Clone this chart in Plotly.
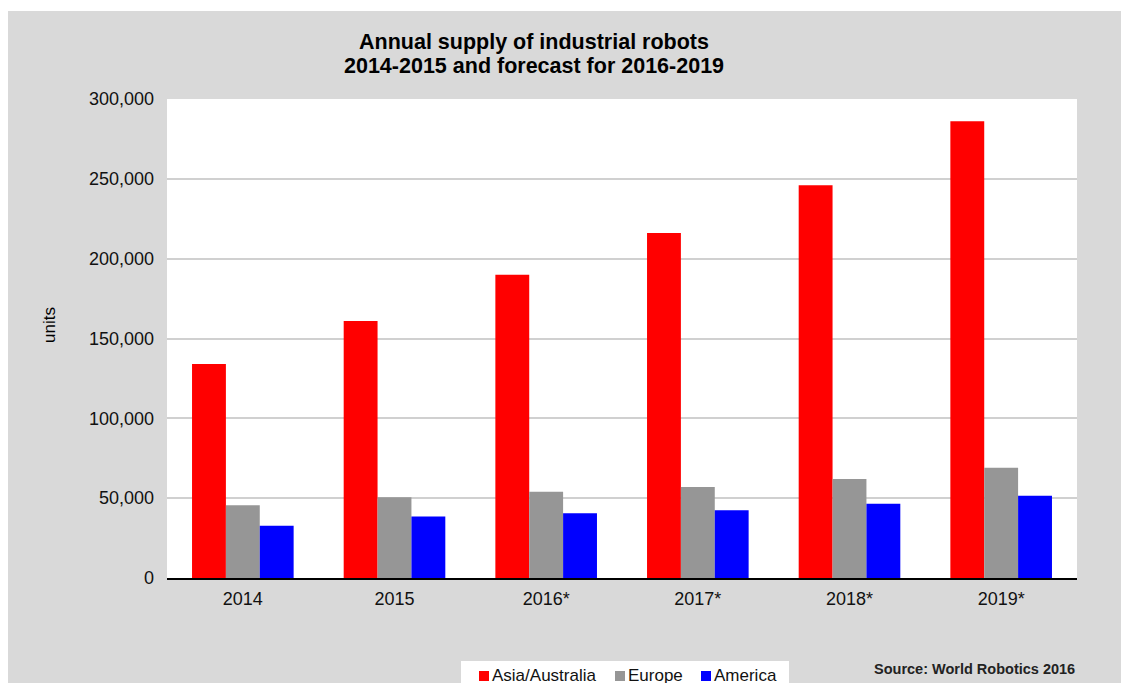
import plotly.graph_objects as go

years = ["2014", "2015", "2016*", "2017*", "2018*", "2019*"]
asia = [134000, 161000, 190000, 216000, 246000, 286000]
europe = [45500, 50500, 54000, 57000, 62000, 69000]
america = [32700, 38500, 40500, 42500, 46500, 51500]
series_names = ["Asia/Australia", "Europe", "America"]
series_colors = ["#ff0000", "#969696", "#0000ff"]
y_ticks = [0, 50000, 100000, 150000, 200000, 250000, 300000]

OFF = 8  # page body margin
W, H = 1129 - OFF, 683 - OFF
# plot area in reference (screen) pixels: x 167..1077, y 99..578
ml, mr = 167 - OFF, W - (1077 - OFF)
mt, mb = 99 - OFF, H - (578 - OFF)
pw, ph = W - ml - mr, H - mt - mb

def px_x(x):
    return (x - OFF - ml) / pw

def px_y(y):
    return (H - mb - (y - OFF)) / ph

FONT = "Liberation Sans, Arial, sans-serif"

fig = go.Figure()
for name, vals, col in zip(series_names, [asia, europe, america], series_colors):
    fig.add_trace(go.Bar(x=years, y=vals, name=name, showlegend=False,
                         marker=dict(color=col, line=dict(width=0))))

# hand-placed legend (matches the small squares of the original)
legend_box = (461, 789, 661)          # left, right, top (screen px)
legend_sym_x = [479, 615, 701]        # left edge of each colour square
legend_sym_top, legend_sym_size = 671, 10
legend_text_y = 675

shapes = [
    dict(type="rect", xref="paper", yref="paper",
         x0=px_x(0), x1=px_x(1200), y0=px_y(11), y1=px_y(0),
         fillcolor="#ffffff", line=dict(width=0), layer="above"),
    dict(type="rect", xref="paper", yref="paper",
         x0=px_x(legend_box[0]), x1=px_x(legend_box[1]),
         y0=px_y(720), y1=px_y(legend_box[2]),
         fillcolor="#ffffff", line=dict(width=0), layer="above"),
]
annotations = []
for name, col, sx in zip(series_names, series_colors, legend_sym_x):
    shapes.append(dict(type="rect", xref="paper", yref="paper",
                       x0=px_x(sx), x1=px_x(sx + legend_sym_size),
                       y0=px_y(legend_sym_top + legend_sym_size), y1=px_y(legend_sym_top),
                       fillcolor=col, line=dict(width=0), layer="above"))
    annotations.append(dict(text=name, xref="paper", yref="paper",
                            x=px_x(sx + legend_sym_size + 2), y=px_y(legend_text_y),
                            xanchor="left", yanchor="middle", showarrow=False,
                            borderpad=0, font=dict(size=17, family=FONT, color="#111111")))

annotations += [
    dict(text="<b>Annual supply of industrial robots</b>",
         xref="paper", yref="paper", x=px_x(534), y=px_y(42),
         xanchor="center", yanchor="middle", showarrow=False,
         font=dict(size=21.5, family=FONT, color="#000000")),
    dict(text="<b>2014-2015 and forecast for 2016-2019</b>",
         xref="paper", yref="paper", x=px_x(534), y=px_y(66),
         xanchor="center", yanchor="middle", showarrow=False,
         font=dict(size=21.5, family=FONT, color="#000000")),
    dict(text="units", xref="paper", yref="paper", x=px_x(49), y=px_y(325),
         xanchor="center", yanchor="middle", showarrow=False, textangle=-90,
         font=dict(size=17, family=FONT, color="#000000")),
    dict(text="<b>Source: World Robotics 2016</b>", xref="paper", yref="paper",
         x=px_x(1077), y=px_y(669), xanchor="right", yanchor="middle",
         showarrow=False, font=dict(size=14.5, family=FONT, color="#222222")),
]

fig.update_layout(
    width=W, height=H,
    margin=dict(l=ml, r=mr, t=mt, b=mb, autoexpand=False),
    paper_bgcolor="#d9d9d9",
    plot_bgcolor="#ffffff",
    barmode="group",
    bargap=0.33,
    bargroupgap=0,
    font=dict(family=FONT, size=18, color="#111111"),
    showlegend=False,
    xaxis=dict(
        showline=True, linecolor="#000000", linewidth=2,
        ticks="", showgrid=False,
        tickfont=dict(size=18),
        ticklabelstandoff=3,
        fixedrange=True,
    ),
    yaxis=dict(
        range=[0, 300000],
        tickvals=y_ticks,
        tickformat=",d",
        showgrid=True, gridcolor="#d0d0d0", gridwidth=2,
        zeroline=False,
        showline=False,
        ticks="", ticklabelstandoff=12,
        tickfont=dict(size=18),
        fixedrange=True,
    ),
    shapes=shapes,
    annotations=annotations,
)

fig.write_html("out.html", post_script="document.body.style.overflow='hidden';")
